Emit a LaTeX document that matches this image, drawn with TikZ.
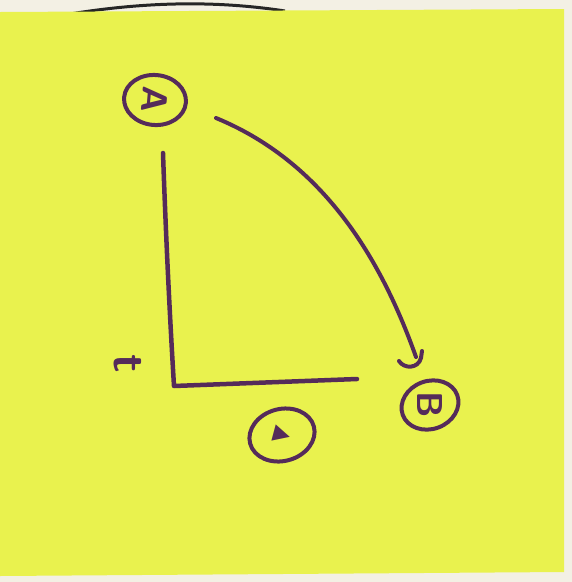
\documentclass[tikz,border=0pt]{standalone}
\usepackage{fontspec}
\newfontfamily\dejavu{DejaVu Sans}
\usetikzlibrary{calc,shapes.geometric}
\definecolor{paper}{HTML}{F3F0E4}
\definecolor{note}{HTML}{E9F24E}
\definecolor{pen}{HTML}{552B5A}
\tikzset{
  ink/.style={draw=pen, line width=4.5pt, line cap=round, line join=round},
  bubble/.style={ellipse, draw=pen, line width=4pt, minimum width=62pt, minimum height=50pt, inner sep=0pt, text=pen, font=\sffamily\bfseries\fontsize{36}{36}\selectfont},
  axislabel/.style={text=pen, font=\sffamily\bfseries\fontsize{46}{46}\selectfont, inner sep=0pt}
}
\begin{document}
\begin{tikzpicture}[x=1pt,y=-1pt]
\useasboundingbox (0,0) rectangle (572,582);
\fill[paper] (0,0) rectangle (572,582);
\draw[black!85, line width=3pt] (70,14) .. controls (150,1) and (220,1) .. (285,11);
\fill[note] (0,12) -- (564,9) -- (564,572) -- (0,576) -- cycle;
% nodes
\node[bubble, rotate=-5] (A) at (155,100) {\rotatebox{-90}{A}};
\node[bubble, rotate=20, minimum width=58pt, minimum height=48pt] (B) at (430,405) {\rotatebox{-110}{B}};
\node[bubble, rotate=15, minimum width=66pt, minimum height=52pt] (C) at (282,435) {\dejavu\fontsize{22}{22}\selectfont\rotatebox{-30}{▶}};
\node[axislabel] (T) at (128,364) {\rotatebox{-90}{t}};
% axes
\coordinate (ytop) at (163,153);
\coordinate (origin) at (174,386);
\coordinate (xend) at (357,379);
\draw[ink] (ytop) .. controls (166,240) and (170,320) .. (origin) -- (xend);
% curved arrow A -> B
\coordinate (start) at ($(A.center)+(61,18)$);
\coordinate (tip) at (416,357);
\draw[ink, line width=4pt] (start) .. controls (318,160) and (378,250) .. (tip);
\draw[ink, line width=4pt] (399,361) .. controls (404,369) and (418,369) .. (421,358) -- (422,351);
\end{tikzpicture}
\end{document}
